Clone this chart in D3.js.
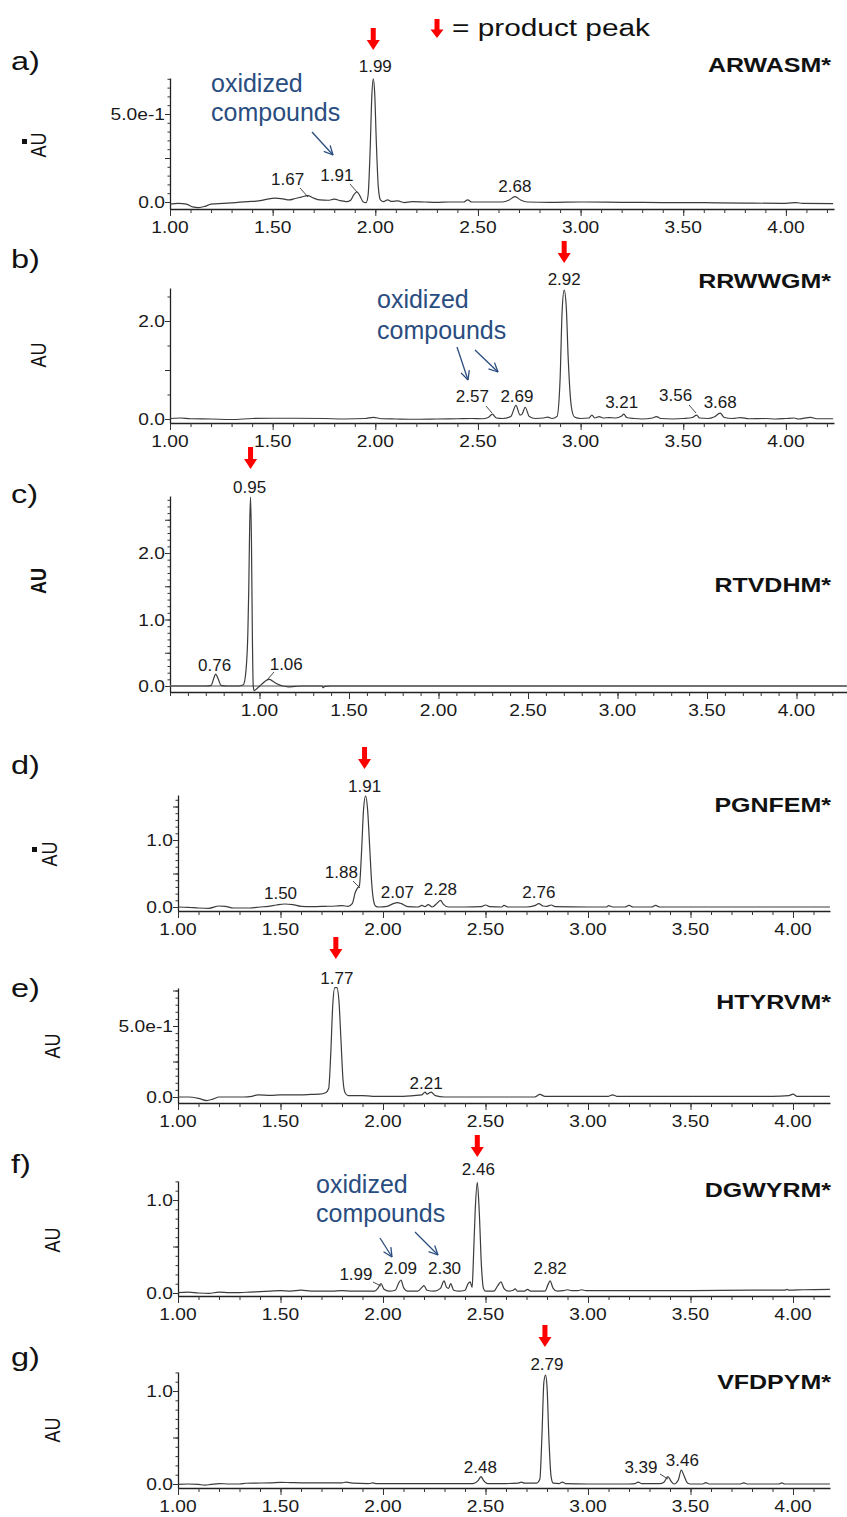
<!DOCTYPE html>
<html><head><meta charset="utf-8">
<script src="https://cdn.jsdelivr.net/npm/d3@7"></script>
<style>body{margin:0;background:#fff}svg{display:block}</style>
</head><body>
<svg id="c" width="847" height="1517"></svg>
<script>
// ---------------- DATA ----------------
const panelLetters = ["a)", "b)", "c)", "d)", "e)", "f)", "g)"];
const panelNames = ["ARWASM*", "RRWWGM*", "RTVDHM*", "PGNFEM*", "HTYRVM*", "DGWYRM*", "VFDPYM*"];
const productPeaks = [1.99, 2.92, 0.95, 1.91, 1.77, 2.46, 2.79];
const xTickLabels = ["1.00", "1.50", "2.00", "2.50", "3.00", "3.50", "4.00"];
const yTickLabelsA = [[0, "0.0"], [0.5, "5.0e-1"]];
const yTickLabelsB = [[0, "0.0"], [2, "2.0"]];
const yTickLabelsC = [[0, "0.0"], [1, "1.0"], [2, "2.0"]];
const yTickLabelsD = [[0, "0.0"], [1, "1.0"]];
const yTickLabelsE = [[0, "0.0"], [0.5, "5.0e-1"]];
const yTickLabelsF = [[0, "0.0"], [1, "1.0"]];
const yTickLabelsG = [[0, "0.0"], [1, "1.0"]];

const peaksA = [1.67, 1.91, 1.99, 2.68];
const peaksB = [2.57, 2.69, 2.92, 3.21, 3.56, 3.68];
const peaksC = [0.76, 0.95, 1.06];
const peaksD = [1.50, 1.88, 1.91, 2.07, 2.28, 2.76];
const peaksE = [1.77, 2.21];
const peaksF = [1.99, 2.09, 2.30, 2.46, 2.82];
const peaksG = [2.48, 2.79, 3.39, 3.46];

const traceA = [[1.00,-0.012],[1.04,-0.008],[1.08,-0.012],[1.11,-0.028],[1.14,-0.032],[1.17,-0.025],[1.20,-0.012],[1.26,-0.008],[1.32,-0.003],[1.38,0.002],[1.43,0.006],[1.47,0.015],[1.51,0.022],[1.55,0.018],[1.58,0.012],[1.61,0.02],[1.64,0.028],[1.67,0.036],[1.70,0.022],[1.73,0.012],[1.77,0.01],[1.80,0.016],[1.83,0.008],[1.86,0.002],[1.88,0.01],[1.895,0.04],[1.91,0.058],[1.925,0.035],[1.94,0.002],[1.955,-0.004],[1.965,0.04],[1.975,0.3],[1.983,0.6],[1.99,0.70],[1.997,0.62],[2.005,0.34],[2.015,0.08],[2.025,0.012],[2.04,0.002],[2.06,0.012],[2.08,0.003],[2.11,0.006],[2.14,-0.003],[2.18,0.002],[2.24,0.0],[2.30,-0.002],[2.36,0.0],[2.43,0.0],[2.45,0.012],[2.47,0.0],[2.55,0.0],[2.62,0.0],[2.65,0.01],[2.68,0.03],[2.71,0.01],[2.74,0.0],[2.85,-0.002],[3.0,0.0],[3.2,-0.002],[3.4,-0.003],[3.6,-0.004],[3.8,-0.006],[4.0,-0.008],[4.05,-0.003],[4.08,-0.008],[4.23,-0.009]];

const traceB = [[1.00,0.01],[1.05,0.02],[1.10,0.005],[1.2,0.0],[1.3,-0.01],[1.4,0.01],[1.5,0.015],[1.6,0.015],[1.75,0.01],[1.85,0.0],[1.95,0.01],[1.99,0.035],[2.03,0.005],[2.1,0.0],[2.2,-0.005],[2.3,0.0],[2.4,0.005],[2.47,0.01],[2.52,0.005],[2.55,0.03],[2.57,0.1],[2.59,0.02],[2.62,0.01],[2.66,0.05],[2.685,0.28],[2.705,0.08],[2.715,0.1],[2.73,0.24],[2.75,0.05],[2.78,0.01],[2.82,0.02],[2.84,0.04],[2.86,0.01],[2.885,0.05],[2.9,0.8],[2.91,2.2],[2.92,2.63],[2.93,2.3],[2.94,1.2],[2.955,0.25],[2.97,0.04],[3.0,0.01],[3.04,0.02],[3.055,0.08],[3.07,0.02],[3.09,0.05],[3.11,0.02],[3.14,0.03],[3.17,0.02],[3.2,0.06],[3.21,0.1],[3.225,0.03],[3.26,0.01],[3.3,0.0],[3.35,0.02],[3.37,0.05],[3.39,0.01],[3.45,0.0],[3.5,0.01],[3.545,0.03],[3.565,0.08],[3.58,0.02],[3.62,0.01],[3.65,0.04],[3.68,0.12],[3.7,0.03],[3.74,0.01],[3.78,0.03],[3.82,0.005],[3.9,0.01],[3.95,0.0],[4.0,0.01],[4.04,0.02],[4.06,0.0],[4.12,0.035],[4.15,0.005],[4.23,0.005]];

const traceC = [[0.5,0.0],[0.6,0.0],[0.70,0.0],[0.73,0.01],[0.745,0.12],[0.755,0.18],[0.77,0.1],[0.785,0.01],[0.82,0.0],[0.88,0.0],[0.91,0.02],[0.925,0.25],[0.935,0.8],[0.94,1.45],[0.945,2.4],[0.95,2.84],[0.955,2.2],[0.96,0.8],[0.965,0.0],[0.97,-0.07],[0.985,-0.04],[1.01,0.02],[1.035,0.08],[1.055,0.1],[1.075,0.07],[1.1,0.03],[1.13,0.0],[1.16,-0.012],[1.2,-0.005],[1.24,0.0],[1.3,0.0],[1.35,0.0],[1.355,-0.025],[1.365,-0.005],[1.4,0.0],[2.0,0.0],[3.0,0.0],[4.28,0.0]];

const traceD = [[1.0,0.0],[1.05,-0.005],[1.1,-0.015],[1.15,-0.02],[1.2,0.015],[1.23,0.01],[1.27,-0.015],[1.35,-0.015],[1.4,0.0],[1.44,0.01],[1.48,0.03],[1.52,0.045],[1.56,0.035],[1.6,0.01],[1.65,0.005],[1.72,0.01],[1.77,0.015],[1.8,0.02],[1.83,0.01],[1.85,0.05],[1.865,0.22],[1.875,0.28],[1.885,0.32],[1.895,0.8],[1.905,1.45],[1.915,1.66],[1.925,1.45],[1.935,0.9],[1.945,0.35],[1.955,0.08],[1.965,0.01],[1.98,0.0],[2.02,0.01],[2.05,0.05],[2.07,0.065],[2.09,0.05],[2.12,0.005],[2.17,0.0],[2.19,0.025],[2.205,0.005],[2.22,0.035],[2.24,0.0],[2.265,0.06],[2.28,0.1],[2.295,0.04],[2.32,0.0],[2.4,0.0],[2.48,0.005],[2.5,0.03],[2.52,0.005],[2.58,0.0],[2.59,0.025],[2.61,0.0],[2.7,0.0],[2.74,0.02],[2.76,0.05],[2.78,0.015],[2.8,0.01],[2.82,0.03],[2.84,0.005],[3.0,0.0],[3.09,0.0],[3.1,0.02],[3.12,0.0],[3.18,0.0],[3.2,0.025],[3.22,0.0],[3.31,0.0],[3.33,0.025],[3.35,0.0],[3.6,0.0],[3.8,0.0],[4.0,0.0],[4.18,0.0]];

const traceE = [[1.0,0.0],[1.05,0.0],[1.1,-0.01],[1.14,-0.025],[1.17,-0.015],[1.2,0.0],[1.25,0.0],[1.32,0.0],[1.36,0.005],[1.39,0.015],[1.45,0.012],[1.5,0.015],[1.55,0.015],[1.6,0.015],[1.65,0.018],[1.69,0.02],[1.72,0.03],[1.735,0.06],[1.745,0.3],[1.755,0.65],[1.765,0.77],[1.775,0.77],[1.785,0.68],[1.795,0.4],[1.805,0.12],[1.815,0.03],[1.83,0.01],[1.9,0.01],[1.95,0.005],[2.0,0.005],[2.1,0.005],[2.15,0.01],[2.19,0.015],[2.205,0.035],[2.215,0.02],[2.235,0.035],[2.255,0.01],[2.3,0.0],[2.5,0.0],[2.74,0.0],[2.765,0.018],[2.79,0.005],[3.0,0.005],[3.1,0.005],[3.12,0.015],[3.14,0.005],[3.5,0.005],[3.9,0.005],[3.98,0.01],[4.0,0.02],[4.02,0.005],[4.1,0.005],[4.18,0.005]];

const traceF = [[1.0,0.005],[1.05,0.01],[1.1,0.0],[1.15,-0.005],[1.2,0.01],[1.25,0.005],[1.3,0.005],[1.35,0.01],[1.4,0.015],[1.45,0.02],[1.5,0.025],[1.55,0.02],[1.6,0.03],[1.65,0.02],[1.75,0.02],[1.8,0.025],[1.85,0.02],[1.9,0.02],[1.96,0.02],[1.975,0.05],[1.99,0.1],[2.005,0.04],[2.03,0.02],[2.06,0.03],[2.075,0.1],[2.088,0.14],[2.1,0.06],[2.12,0.02],[2.17,0.02],[2.19,0.06],[2.2,0.08],[2.215,0.03],[2.25,0.02],[2.28,0.05],[2.298,0.13],[2.31,0.06],[2.32,0.05],[2.33,0.1],[2.345,0.03],[2.37,0.02],[2.4,0.03],[2.415,0.1],[2.425,0.12],[2.435,0.06],[2.44,0.3],[2.45,0.9],[2.46,1.19],[2.47,0.85],[2.48,0.3],[2.49,0.05],[2.5,0.02],[2.54,0.02],[2.56,0.08],[2.575,0.12],[2.59,0.05],[2.61,0.02],[2.635,0.03],[2.645,0.045],[2.655,0.02],[2.69,0.02],[2.705,0.04],[2.72,0.02],[2.79,0.02],[2.805,0.09],[2.815,0.13],[2.83,0.05],[2.85,0.02],[2.88,0.025],[2.9,0.035],[2.92,0.025],[2.95,0.025],[2.97,0.035],[2.99,0.025],[3.2,0.025],[3.5,0.025],[3.8,0.03],[3.96,0.03],[3.97,0.04],[3.98,0.03],[4.05,0.035],[4.18,0.04]];

const traceG = [[1.0,-0.005],[1.05,0.0],[1.1,-0.005],[1.13,-0.012],[1.16,-0.005],[1.2,0.005],[1.25,0.0],[1.3,0.0],[1.33,0.008],[1.38,0.01],[1.45,0.012],[1.5,0.018],[1.55,0.015],[1.6,0.012],[1.7,0.012],[1.8,0.012],[1.82,0.02],[1.85,0.01],[1.93,0.005],[1.95,0.012],[1.97,0.003],[2.1,0.003],[2.3,0.003],[2.44,0.005],[2.465,0.04],[2.478,0.08],[2.49,0.04],[2.51,0.005],[2.6,0.005],[2.66,0.01],[2.675,0.02],[2.69,0.01],[2.75,0.01],[2.765,0.05],[2.775,0.5],[2.785,1.1],[2.793,1.17],[2.8,1.05],[2.81,0.45],[2.82,0.08],[2.83,0.01],[2.86,0.005],[2.875,0.02],[2.89,0.005],[3.0,0.0],[3.1,0.0],[3.2,0.0],[3.23,0.005],[3.245,0.02],[3.26,0.005],[3.35,0.005],[3.37,0.02],[3.39,0.08],[3.405,0.03],[3.42,0.0],[3.44,0.04],[3.455,0.15],[3.47,0.08],[3.485,0.01],[3.5,0.0],[3.56,0.0],[3.575,0.015],[3.59,0.0],[3.74,0.0],[3.76,0.012],[3.78,0.0],[3.93,0.0],[3.945,0.012],[3.96,0.0],[4.18,0.0]];

const annotationText = ["oxidized", "compounds"];
const legendText = "= product peak";

// ---------------- LAYOUT (positions / styles) ----------------
const layouts = [
  {left:170,right:834,x0:1.0,unit:205.3,axisY:209,zeroY:202,yUnit:176,topY:78,minor:0.05,mid:0.25,
   letterY:70,auX:40,auY:145,square:[22,139],titleY:72,arrowTop:28,
   labels:[[-20,185,[300,188,308,197]],[-20,181,[350,184,357,192]],[2,72],[0,192]],
   ox:{x:211,y1:92,y2:121,arrows:[[312,132,333,155]]}},
  {left:170,right:834,x0:1.0,unit:205.3,axisY:423,zeroY:419,yUnit:49,topY:288,minor:0.5,mid:1.0,
   letterY:268,auX:40,auY:355,titleY:288,arrowTop:241,
   labels:[[-20,402,[486,406,492,413]],[0,402],[0,285],[-2,408],[-20,401,[689,405,696,413]],[0,408]],
   ox:{x:377,y1:308,y2:339,arrows:[[457,347,468,380],[475,350,498,372]]}},
  {left:170,right:847,x0:0.5,unit:179,axisY:692,zeroY:686,yUnit:66.5,topY:496,minor:0.1,mid:0.5,
   letterY:503,auX:40,auY:581,auBold:true,titleY:592,arrowTop:447,baseline:true,
   labels:[[-2,671],[-1,493],[16,670,[274,672,267,680]]]},
  {left:178,right:830,x0:1.0,unit:205,axisY:911,zeroY:907,yUnit:67,topY:795,minor:0.1,mid:0.5,
   letterY:774,auX:51,auY:854,square:[32,847],titleY:812,arrowTop:747,
   labels:[[0,899],[-17,878,[353,881,360,888]],[0,792],[0,898],[0,895],[0,898]]},
  {left:178,right:830,x0:1.0,unit:205,axisY:1103,zeroY:1097,yUnit:142,topY:988,minor:0.05,mid:0.25,
   letterY:997,auX:54,auY:1046,titleY:1009,arrowTop:937,
   labels:[[1,984],[0,1089]]},
  {left:178,right:830,x0:1.0,unit:205,axisY:1296,zeroY:1293,yUnit:93,topY:1181,minor:0.1,mid:0.5,
   letterY:1173,auX:54,auY:1240,titleY:1197,arrowTop:1135,
   labels:[[-25,1280,[373,1282,381,1286]],[-1,1274],[0,1274],[1,1175],[-1,1274]],
   ox:{x:316,y1:1193,y2:1222,arrows:[[380,1238,392,1257],[415,1232,438,1255]]}},
  {left:178,right:830,x0:1.0,unit:205,axisY:1488,zeroY:1484,yUnit:93,topY:1372,minor:0.1,mid:0.5,
   letterY:1366,auX:54,auY:1430,titleY:1389,arrowTop:1325,
   labels:[[-1,1473],[2,1370],[-27,1473,[660,1474,668,1479]],[0,1466]]}
];

const traces = [traceA, traceB, traceC, traceD, traceE, traceF, traceG];
const peakSets = [peaksA, peaksB, peaksC, peaksD, peaksE, peaksF, peaksG];
const yLabelSets = [yTickLabelsA, yTickLabelsB, yTickLabelsC, yTickLabelsD, yTickLabelsE, yTickLabelsF, yTickLabelsG];

const FONT = "'Liberation Sans', Arial, sans-serif";
const svg = d3.select("#c");

function txt(parent, x, y, s, o = {}) {
  const t = parent.append("text")
    .attr("transform", `translate(${x},${y}) scale(${o.sx || 1},1)`)
    .attr("text-anchor", o.anchor || "start")
    .attr("font-family", FONT)
    .attr("font-size", o.size || 16)
    .attr("font-weight", o.weight || "normal")
    .attr("fill", o.fill || "#111")
    .text(s);
  if (o.len) t.attr("textLength", o.len).attr("lengthAdjust", "spacingAndGlyphs");
  return t;
}

function redArrow(cx, top, h) {
  const head = h * 0.45;
  svg.append("path")
    .attr("d", `M${cx-2.5},${top} L${cx+2.5},${top} L${cx+2.5},${top+h-head} L${cx+6.5},${top+h-head} L${cx},${top+h} L${cx-6.5},${top+h-head} L${cx-2.5},${top+h-head} Z`)
    .attr("fill", "#ff0000");
}

function blueArrow(x1, y1, x2, y2) {
  const c = "#2a4d7f";
  svg.append("line").attr("x1", x1).attr("y1", y1).attr("x2", x2).attr("y2", y2)
    .attr("stroke", c).attr("stroke-width", 1.3);
  const a = Math.atan2(y2 - y1, x2 - x1), L = 10;
  [0.45, -0.45].forEach(d => {
    svg.append("line").attr("x1", x2).attr("y1", y2)
      .attr("x2", x2 - L * Math.cos(a + d)).attr("y2", y2 - L * Math.sin(a + d))
      .attr("stroke", c).attr("stroke-width", 1.3);
  });
}

// legend
redArrow(437, 19, 19);
txt(svg, 452, 36, legendText, {size: 23, len: 198});

layouts.forEach((L, i) => {
  const g = svg.append("g");
  const xMax = L.x0 + (L.right - L.left) / L.unit;
  const x = d3.scaleLinear().domain([L.x0, xMax]).range([L.left, L.right]);
  const yMin = -(L.axisY - L.zeroY) / L.yUnit, yMax = (L.zeroY - L.topY) / L.yUnit;
  const y = d3.scaleLinear().domain([yMin, yMax]).range([L.axisY, L.topY]);

  // x axis
  const minorX = d3.range(Math.ceil(L.x0 * 10 - 1e-6), Math.floor(xMax * 10 + 1e-6) + 1).map(v => v / 10);
  const majorX = xTickLabels.map(Number);
  const xa1 = g.append("g").attr("transform", `translate(0,${L.axisY})`)
    .call(d3.axisBottom(x).tickValues(minorX).tickSize(4).tickSizeOuter(0).tickFormat(""));
  const xa2 = g.append("g").attr("transform", `translate(0,${L.axisY})`)
    .call(d3.axisBottom(x).tickValues(majorX).tickSize(7).tickSizeOuter(0).tickFormat(""));
  xa2.select(".domain").remove();
  xa1.select(".domain").attr("stroke", "#222").attr("stroke-width", 1.6);
  [xa1, xa2].forEach(a => a.selectAll(".tick line").attr("stroke", "#333").attr("stroke-width", 1));
  xTickLabels.forEach(s => txt(g, x(+s), L.axisY + 24, s, {size: 16, anchor: "middle", sx: 1.2, fill: "#1a1a1a"}));

  // y axis
  const minorY = d3.range(0, yMax + 1e-6, L.minor);
  const midY = d3.range(0, yMax + 1e-6, L.mid);
  const ya1 = g.append("g").attr("transform", `translate(${L.left},0)`)
    .call(d3.axisLeft(y).tickValues(minorY).tickSize(2.5).tickSizeOuter(0).tickFormat(""));
  const ya2 = g.append("g").attr("transform", `translate(${L.left},0)`)
    .call(d3.axisLeft(y).tickValues(midY).tickSize(5).tickSizeOuter(0).tickFormat(""));
  ya2.select(".domain").remove();
  ya1.select(".domain").attr("stroke", "#222").attr("stroke-width", 1.3);
  [ya1, ya2].forEach(a => a.selectAll(".tick line").attr("stroke", "#333"));
  yLabelSets[i].forEach(([v, s]) => txt(g, L.left - 5, y(v) + 6, s, {size: 16, anchor: "end", sx: 1.2, fill: "#1a1a1a"}));

  // baseline (panel c)
  if (L.baseline) {
    g.append("line").attr("x1", L.left).attr("x2", L.right).attr("y1", y(0)).attr("y2", y(0))
      .attr("stroke", "#8a8a8a").attr("stroke-width", 1.6);
  }

  // trace
  g.append("path").datum(traces[i])
    .attr("d", d3.line().x(d => x(d[0])).y(d => y(d[1])).curve(d3.curveMonotoneX))
    .attr("fill", "none").attr("stroke", "#3c3c3c").attr("stroke-width", 1.2);

  // peak labels
  peakSets[i].forEach((t, k) => {
    const lab = L.labels[k];
    txt(g, x(t) + lab[0], lab[1], t.toFixed(2), {size: 17, anchor: "middle", fill: "#1a1a1a"});
    if (lab[2]) {
      g.append("line").attr("x1", lab[2][0]).attr("y1", lab[2][1]).attr("x2", lab[2][2]).attr("y2", lab[2][3])
        .attr("stroke", "#333").attr("stroke-width", 0.9);
    }
  });

  // product peak arrow
  redArrow(x(productPeaks[i]), L.arrowTop, 22);

  // panel letter, title, AU
  txt(g, 11, L.letterY, panelLetters[i], {size: 25, sx: 1.3, fill: "#111"});
  txt(g, 831, L.titleY, panelNames[i], {size: 20, weight: "bold", anchor: "end", sx: 1.25, fill: "#111"});
  g.append("text")
    .attr("transform", `translate(${L.auX + 6},${L.auY}) scale(1.25,1) rotate(-90)`)
    .attr("text-anchor", "middle").attr("font-family", FONT).attr("font-size", 18)
    .attr("font-weight", L.auBold ? "bold" : "normal").attr("fill", "#111").text("AU");
  if (L.square) g.append("rect").attr("x", L.square[0]).attr("y", L.square[1]).attr("width", 5).attr("height", 5).attr("fill", "#111");

  // oxidized compounds
  if (L.ox) {
    txt(g, L.ox.x, L.ox.y1, annotationText[0], {size: 25, fill: "#2a4d7f"});
    txt(g, L.ox.x, L.ox.y2, annotationText[1], {size: 25, fill: "#2a4d7f"});
    L.ox.arrows.forEach(a => blueArrow(...a));
  }
});
</script></body></html>
